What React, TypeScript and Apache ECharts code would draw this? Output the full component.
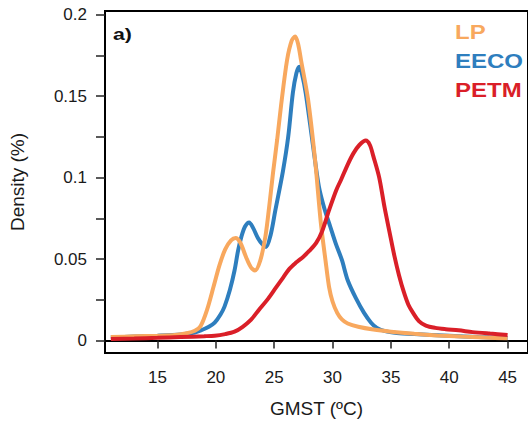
import React, { useEffect, useRef } from "react";
import * as echarts from "echarts";

const xTicks = [15, 20, 25, 30, 35, 40, 45];
const yTicks = [0, 0.025, 0.05, 0.075, 0.1, 0.125, 0.15, 0.175, 0.2];
const yLabels = [0, 0.05, 0.1, 0.15, 0.2];

const seriesNames = ["LP", "EECO", "PETM"];

const lpData: [number, number][] = [
  [11, 0.0022], [13, 0.0026], [15, 0.003], [16.5, 0.0035], [17.5, 0.0045],
  [18.2, 0.006], [18.7, 0.009], [19.25, 0.019], [19.8, 0.033], [20.3, 0.046],
  [20.8, 0.056], [21.3, 0.0615], [21.7, 0.063], [22.1, 0.06], [22.6, 0.051],
  [23.0, 0.045], [23.35, 0.043], [23.8, 0.049], [24.25, 0.064], [24.6, 0.084],
  [24.9, 0.103], [25.25, 0.123], [25.6, 0.145], [26.1, 0.172], [26.5, 0.184],
  [26.8, 0.1865], [27.05, 0.182], [27.3, 0.172], [27.9, 0.148], [28.5, 0.111],
  [29.0, 0.072], [29.4, 0.049], [29.7, 0.033], [30.0, 0.024], [30.4, 0.017],
  [30.8, 0.013], [31.3, 0.0105], [32.2, 0.0085], [33.5, 0.0068], [35, 0.0055],
  [37, 0.0042], [39, 0.0032], [41, 0.0025], [43, 0.0019], [45, 0.0014],
];

const eecoData: [number, number][] = [
  [11, 0.002], [13, 0.0025], [15, 0.003], [17, 0.0038], [18.2, 0.005],
  [18.8, 0.0065], [19.4, 0.0085], [19.9, 0.011], [20.4, 0.016], [20.75, 0.021],
  [21.2, 0.031], [21.6, 0.043], [21.9, 0.055], [22.2, 0.064], [22.5, 0.07],
  [22.85, 0.0725], [23.2, 0.069], [23.6, 0.063], [24.0, 0.059], [24.3, 0.0575],
  [24.7, 0.065], [25.1, 0.08], [25.75, 0.104], [26.2, 0.125], [26.6, 0.152],
  [26.9, 0.164], [27.15, 0.168], [27.4, 0.163], [27.7, 0.152], [28.3, 0.121],
  [28.83, 0.0945], [29.3, 0.081], [29.8, 0.07], [30.3, 0.059], [30.8, 0.0495],
  [31.3, 0.037], [32.0, 0.026], [32.7, 0.017], [33.3, 0.011], [33.8, 0.0078],
  [34.5, 0.0058], [35.5, 0.0047], [37, 0.004], [40, 0.003], [42.5, 0.0022],
  [45, 0.0016],
];

const petmData: [number, number][] = [
  [11, 0.001], [13, 0.0013], [15, 0.0017], [17, 0.0022], [19, 0.0027],
  [19.9, 0.003], [20.8, 0.004], [21.6, 0.0055], [22.3, 0.0085], [23, 0.0127],
  [23.7, 0.019], [24.4, 0.025], [25.1, 0.032], [25.75, 0.0385], [26.3, 0.044],
  [26.9, 0.048], [27.5, 0.0515], [28.0, 0.055], [28.6, 0.06], [29.1, 0.067],
  [29.7, 0.08], [30.3, 0.092], [30.75, 0.099], [31.3, 0.108], [31.8, 0.115],
  [32.3, 0.12], [32.85, 0.1227], [33.2, 0.12], [33.5, 0.113], [34.0, 0.1],
  [34.45, 0.082], [34.9, 0.066], [35.3, 0.052], [35.7, 0.04], [36.1, 0.03],
  [36.5, 0.022], [36.9, 0.017], [37.4, 0.012], [38.0, 0.0092], [38.8, 0.0078],
  [39.7, 0.007], [40.8, 0.0063], [42, 0.0052], [43.5, 0.0043], [45, 0.0035],
];

const COLORS = { LP: "#F8A85E", EECO: "#2E7EBE", PETM: "#DA1F28" };

export default function App() {
  const ref = useRef<HTMLDivElement>(null);
  useEffect(() => {
    if (!ref.current) return;
    document.body.style.margin = "0";
    const chart = echarts.init(ref.current, null, { renderer: "svg" });
    const font = "'Liberation Sans', Arial, sans-serif";
    const legendItems = [
      { name: seriesNames[0], color: COLORS.LP, y: 32 },
      { name: seriesNames[1], color: COLORS.EECO, y: 61 },
      { name: seriesNames[2], color: COLORS.PETM, y: 90 },
    ];
    chart.setOption({
      animation: false,
      grid: {
        left: 100,
        top: 11,
        width: 435,
        height: 342,
        show: true,
        borderColor: "#000",
        borderWidth: 2,
        backgroundColor: "transparent",
      },
      xAxis: {
        type: "value",
        min: 10.5,
        max: 46.75,
        name: "GMST (ºC)",
        nameLocation: "middle",
        nameGap: 46,
        nameTextStyle: { fontSize: 19, color: "#1a1a1a", fontFamily: font },
        axisLine: { show: true, lineStyle: { color: "#000", width: 2 } },
        axisTick: {
          show: true,
          inside: false,
          length: 8,
          customValues: xTicks,
          lineStyle: { color: "#222", width: 1.5 },
        },
        axisLabel: {
          customValues: xTicks,
          margin: 16,
          fontSize: 17,
          color: "#1a1a1a",
          fontFamily: font,
        },
        splitLine: { show: false },
      },
      yAxis: {
        type: "value",
        min: -0.0076,
        max: 0.2022,
        name: "Density (%)",
        nameLocation: "middle",
        nameGap: 68,
        nameRotate: 90,
        nameTextStyle: {
          fontSize: 19,
          color: "#1a1a1a",
          fontFamily: font,
          padding: [0, 0, 10, 0],
        },
        axisLine: { show: true, lineStyle: { color: "#000", width: 2 } },
        axisTick: {
          show: true,
          inside: false,
          length: 9,
          customValues: yTicks,
          lineStyle: { color: "#222", width: 1.5 },
        },
        axisLabel: {
          customValues: yLabels,
          margin: 18,
          fontSize: 17,
          color: "#1a1a1a",
          fontFamily: font,
        },
        splitLine: { show: false },
      },
      graphic: [
        {
          type: "text",
          left: 113,
          top: 26,
          scaleX: 1.25,
          style: {
            text: "a)",
            fontSize: 17,
            fontWeight: "bold",
            fill: "#111",
            fontFamily: font,
          },
        },
        ...legendItems.map((it) => ({
          type: "text",
          x: 455,
          y: it.y,
          scaleX: 1.2,
          style: {
            text: it.name,
            fontSize: 20,
            fontWeight: "bold",
            fill: it.color,
            fontFamily: font,
            verticalAlign: "middle",
            align: "left",
          },
        })),
      ],
      series: [
        {
          name: "EECO",
          type: "line",
          data: eecoData,
          smooth: 0.3,
          showSymbol: false,
          lineStyle: { color: COLORS.EECO, width: 4 },
          itemStyle: { color: COLORS.EECO },
          z: 2,
        },
        {
          name: "LP",
          type: "line",
          data: lpData,
          smooth: 0.3,
          showSymbol: false,
          lineStyle: { color: COLORS.LP, width: 4 },
          itemStyle: { color: COLORS.LP },
          z: 3,
        },
        {
          name: "PETM",
          type: "line",
          data: petmData,
          smooth: 0.3,
          showSymbol: false,
          lineStyle: { color: COLORS.PETM, width: 4 },
          itemStyle: { color: COLORS.PETM },
          z: 4,
        },
      ],
    });
    return () => chart.dispose();
  }, []);
  return <div ref={ref} style={{ width: 528, height: 427 }} />;
}
